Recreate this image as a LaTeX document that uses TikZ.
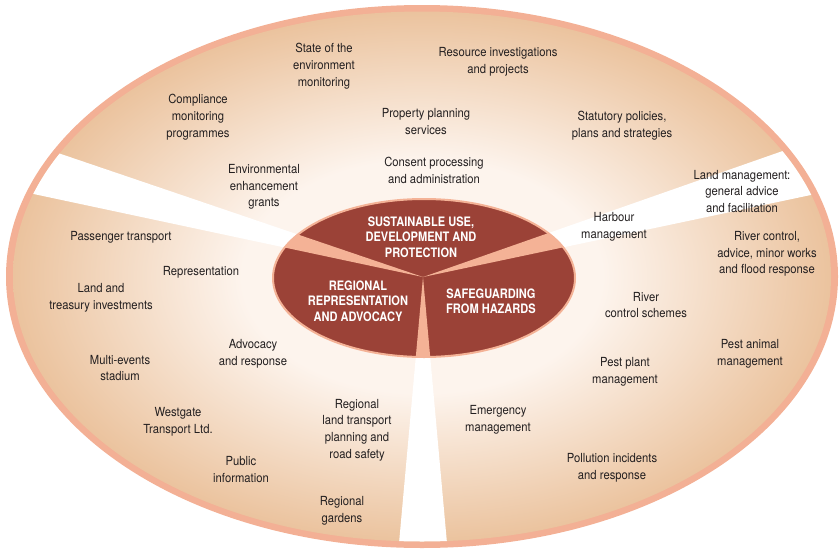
\documentclass[tikz,border=0pt]{standalone}
\usepackage{fontspec}
\newfontfamily\labelfont{TeX Gyre Heros}[FakeStretch=0.9]
\newfontfamily\hubfont{TeX Gyre Heros}[FakeStretch=0.85]
\definecolor{rim}{RGB}{243,176,149}
\definecolor{ringtan}{RGB}{235,195,158}
\definecolor{ringlight}{RGB}{253,244,237}
\definecolor{hub}{RGB}{155,66,55}
\definecolor{spoke}{RGB}{244,178,150}
\definecolor{ink}{RGB}{35,31,32}
% ring fill: pale around the hub, warm tan towards the rim
\pgfdeclareradialshading{ringshade}{\pgfpoint{0bp}{0bp}}{color(0bp)=(ringlight); color(11bp)=(ringlight); color(25bp)=(ringtan); color(50bp)=(ringtan)}
\begin{document}
\begin{tikzpicture}[x=1pt,y=-1pt,
  item/.style={font=\labelfont\fontsize{12.5}{16.7}\selectfont, text=ink, align=center, inner sep=0pt},
  area/.style={font=\hubfont\bfseries\fontsize{13}{15.5}\selectfont, text=white, align=center, inner sep=0pt}]
\useasboundingbox (0,0) rectangle (840,549);

% outer rim and shaded ring
\fill[rim] (422,276.5) ellipse (416 and 271.5);
\shade[shading=ringshade] (422,276.5) ellipse (409 and 265);

% spoke geometry
\coordinate (apex) at (423,277);
\coordinate (lt) at (-45,118);
\coordinate (lb) at (-79,170);
\coordinate (rt) at (894,112);
\coordinate (rb) at (929,170);
\coordinate (bl) at (392,621);
\coordinate (br) at (454,621);

% white gaps through the ring
\begin{scope}
  \clip (422,276.5) ellipse (409 and 265);
  \fill[white] (apex) -- (lt) -- (lb) -- cycle;
  \fill[white] (apex) -- (rt) -- (rb) -- cycle;
  \fill[white] (apex) -- (bl) -- (br) -- cycle;
\end{scope}

% hub with its three sectors
\fill[hub] (424,278) ellipse (151 and 79);
\begin{scope}
  \clip (424,278) ellipse (151 and 79);
  \fill[spoke] (apex) -- (lt) -- (lb) -- cycle;
  \fill[spoke] (apex) -- (rt) -- (rb) -- cycle;
  \fill[spoke] (apex) -- (bl) -- (br) -- cycle;
\end{scope}
\draw[spoke, line width=2pt] (424,278) ellipse (151 and 79);

\node[area] (sus) at (421,237) {SUSTAINABLE USE,\\DEVELOPMENT AND\\PROTECTION};
\node[area] (reg) at (358,301) {REGIONAL\\REPRESENTATION\\AND ADVOCACY};
\node[area] (haz) at (491,301.5) {SAFEGUARDING\\FROM HAZARDS};

% activities
\node[item] (soe) at (324,66) {State of the\\environment\\monitoring};
\node[item] (res) at (498,61.5) {Resource investigations\\and projects};
\node[item] (com) at (198,117) {Compliance\\monitoring\\programmes};
\node[item] (ppl) at (426,121.5) {Property planning\\services};
\node[item] (sta) at (622,126) {Statutory policies,\\plans and strategies};
\node[item] (con) at (434,170.5) {Consent processing\\and administration};
\node[item] (env) at (264,187) {Environmental\\enhancement\\grants};
\node[item] (lnd) at (742,191.5) {Land management:\\general advice\\and facilitation};
\node[item] (hbr) at (614,226.5) {Harbour\\management};
\node[item] (rcw) at (767,254) {River control,\\advice, minor works\\and flood response};
\node[item] (pas) at (121,237) {Passenger transport};
\node[item] (rep) at (201,272) {Representation};
\node[item] (tre) at (101,298) {Land and\\treasury investments};
\node[item] (rcs) at (646,305) {River\\control schemes};
\node[item] (mes) at (120,368) {Multi-events\\stadium};
\node[item] (adv) at (253,354) {Advocacy\\and response};
\node[item] (pam) at (750,354) {Pest animal\\management};
\node[item] (ppm) at (625,371.5) {Pest plant\\management};
\node[item] (wtl) at (178,421.5) {Westgate\\Transport Ltd.};
\node[item] (rlt) at (357,430) {Regional\\land transport\\planning and\\road safety};
\node[item] (emg) at (498,419.5) {Emergency\\management};
\node[item] (pub) at (241,469.5) {Public\\information};
\node[item] (pol) at (612,467.5) {Pollution incidents\\and response};
\node[item] (gdn) at (342,510.5) {Regional\\gardens};
\end{tikzpicture}
\end{document}
